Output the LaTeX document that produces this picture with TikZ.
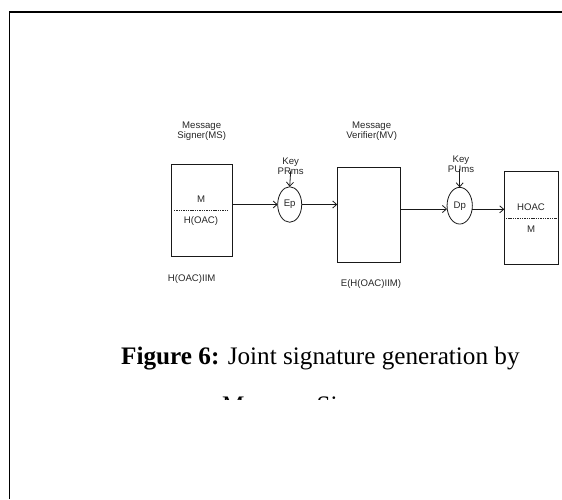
\documentclass[tikz,border=0pt]{standalone}
\usepackage{fontspec}
\setmainfont{Liberation Serif}
\newfontfamily\diagfont{Liberation Sans}
\usetikzlibrary{arrows.meta,shapes.geometric}

\begin{document}
\begin{tikzpicture}[x=1pt,y=-1pt,
  lbl/.style={font=\diagfont\fontsize{9.6}{10.2}\selectfont, inner sep=0pt, align=center, text=black!85},
  blk/.style={draw=black!90, line width=0.8pt, inner sep=0pt, outer sep=0pt},
  oval/.style={ellipse, draw=black!90, line width=0.8pt, inner sep=0pt, outer sep=0pt,
               minimum width=24pt, minimum height=35.5pt,
               font=\diagfont\fontsize{9.6}{10.2}\selectfont, text=black!85},
  arr/.style={-{Straight Barb[length=4pt,width=7pt]}, line width=0.8pt, draw=black!90},
  split/.style={line width=0.6pt, dash pattern=on 1.4pt off 0.9pt, draw=black!85},
  capfont/.style={font=\fontsize{25.2}{29}\selectfont, inner sep=0pt}
]
\useasboundingbox (0,0) rectangle (562,499);

% page frame (left and top edges)
\draw[line width=1.5pt] (9.7,499) -- (9.7,12) -- (562,12);

% signer, verifier and output blocks
\node[blk, minimum width=61pt, minimum height=92pt] (ms) at (201.5,210) {};
\node[blk, minimum width=63pt, minimum height=95pt] (mv) at (368.8,214.5) {};
\node[blk, minimum width=54.4pt, minimum height=92.3pt] (ho) at (531.5,217.9) {};

% encryption / decryption stages
\node[oval] (ep) at (289.7,204.5) {Ep};
\node[oval, minimum width=25.3pt, minimum height=36.7pt] (dp) at (459.7,205.7) {Dp};

% block headings
\node[lbl] (msh) at (201.7,131.3) {Message\\Signer(MS)};
\node[lbl] (mvh) at (371.7,131.3) {Message\\Verifier(MV)};

% block contents
\node[lbl] (msm) at (201,199) {M};
\node[lbl] (msho) at (201,221) {H(OAC)};
\draw[split] ([xshift=3pt]ms.west) -- ([xshift=-3.5pt]ms.east);
\node[lbl] (hoh) at (531,206.7) {HOAC};
\node[lbl] (hom) at (531,229.3) {M};
\draw[split] ([xshift=1.5pt]ho.west) -- ([xshift=-2pt]ho.east);

% captions under the blocks
\node[lbl] (msc) at (191.7,279) {H(OAC)IIM};
\node[lbl] (mvc) at (371,284) {E(H(OAC)IIM)};

% keys
\node[lbl] (ke) at (290.7,166) {Key\\PRms};
\node[lbl] (kd) at (461,164.2) {Key\\PUms};
\draw[arr] ([yshift=4pt]ke.south) -- (ep.north);
\draw[arr] ([xshift=-1.3pt,yshift=4pt]kd.south) -- (dp.north);

% data flow
\draw[arr] (ep.west -| ms.east) -- (ep.west);
\draw[arr] (ep.east) -- (ep.east -| mv.west);
\coordinate (mvout) at ([yshift=5.5pt]mv.east);
\draw[arr] (mvout) -- (mvout -| dp.west);
\coordinate (dpout) at ([yshift=-3.6pt]dp.east);
\draw[arr] (dpout) -- (dpout -| ho.west);

% figure caption
\node[capfont, anchor=base west] (cap1) at (121,364) {\textbf{Figure 6:} Joint signature generation by};
\begin{scope}
  \clip (0,0) rectangle (562,399);
  \node[capfont, anchor=base west] (cap2) at (222,413.5) {Message Signers};
\end{scope}
\end{tikzpicture}
\end{document}
